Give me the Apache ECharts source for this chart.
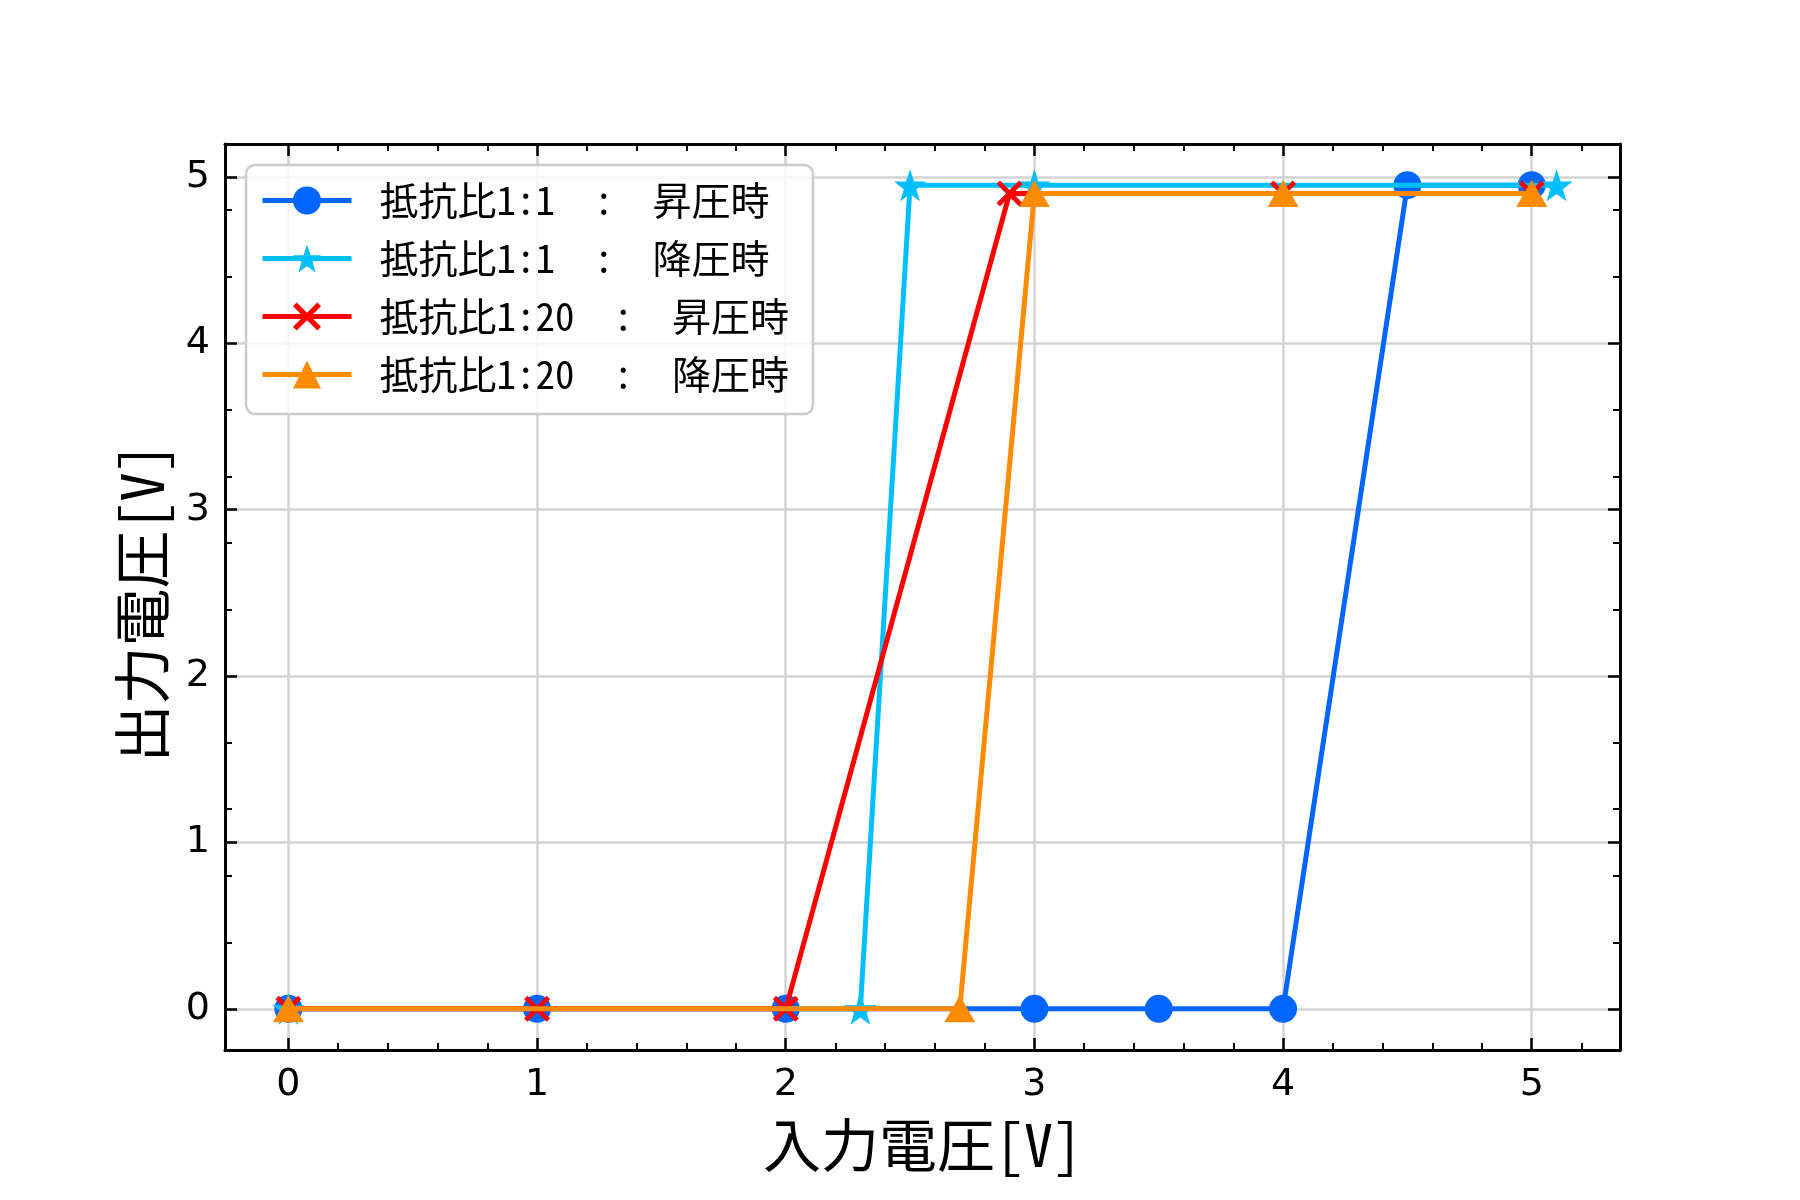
<!DOCTYPE html>
<html><head><meta charset="utf-8">
<script src="https://cdn.jsdelivr.net/npm/echarts@6/dist/echarts.min.js"></script>
<style>html,body{margin:0;padding:0;background:#fff}#c{width:1800px;height:1200px}</style>
</head><body><div id="c"></div>
<script>
// ---- data ----
const seriesNames = ['抵抗比1:1  :  昇圧時', '抵抗比1:1  :  降圧時', '抵抗比1:20  :  昇圧時', '抵抗比1:20  :  降圧時'];
const up11X = [0, 1, 2, 3, 3.5, 4, 4.5, 5];
const up11Y = [0, 0, 0, 0, 0, 0, 4.95, 4.95];
const down11X = [5.1, 3, 2.5, 2.3, 0];
const down11Y = [4.95, 4.95, 4.95, 0, 0];
const up120X = [0, 1, 2, 2.9, 4, 5];
const up120Y = [0, 0, 0, 4.9, 4.9, 4.9];
const down120X = [5, 4, 3, 2.7, 0];
const down120Y = [4.9, 4.9, 4.9, 0, 0];
const xMajorTicks = [0, 1, 2, 3, 4, 5];
const yMajorTicks = [0, 1, 2, 3, 4, 5];
const xMinorTicks = [0.2, 0.4, 0.6, 0.8, 1.2, 1.4, 1.6, 1.8, 2.2, 2.4, 2.6, 2.8, 3.2, 3.4, 3.6, 3.8, 4.2, 4.4, 4.6, 4.8, 5.2];
const yMinorTicks = [0.4, 0.8, 1.2, 1.6, 2.4, 2.8, 3.2, 3.6, 4.4, 4.8];
const xTitle = '入力電圧[V]';
const yTitle = '出力電圧[V]';

// ---- style ----
const FONT_NUM = 'DejaVu Sans';
const FONT_JP = '"Noto Sans Mono CJK JP", "Noto Sans CJK JP", sans-serif';
const colors = ['#0066ff', '#00bfff', '#ff0000', '#ff8c00'];
const X_MIN = -0.255, X_MAX = 5.355, Y_MIN = -0.2475, Y_MAX = 5.1975;
const STAR = 'path://M50,0 L61.8,35.1 L97.6,34.5 L68.8,56.7 L79.4,90.5 L50,70 L20.6,90.5 L31.2,56.7 L2.4,34.5 L38.2,35.1 Z';
const CROSS = 'path://M1.3,0 L5,3.7 L8.7,0 L10,1.3 L6.3,5 L10,8.7 L8.7,10 L5,6.3 L1.3,10 L0,8.7 L3.7,5 L0,1.3 Z';

function pairs(xs, ys) { return xs.map((x, i) => [x, ys[i]]); }

function mkAxis(kind, pos, o) {
  const isX = kind === 'x';
  const a = {
    type: 'value', position: pos,
    min: isX ? X_MIN : Y_MIN, max: isX ? X_MAX : Y_MAX,
    z: o.z == null ? 3 : o.z,
    axisLine: { show: !!o.line, onZero: false, lineStyle: { color: '#000', width: 3 } },
    axisTick: { show: !!o.ticks, inside: true, length: o.len || 12, customValues: o.values,
      lineStyle: { color: '#000', width: o.tw || 2.5 } },
    axisLabel: { show: !!o.labels, customValues: o.values, color: '#000',
      fontFamily: FONT_NUM, fontSize: 38, margin: o.margin || 14 },
    splitLine: { show: !!o.split, lineStyle: { color: '#d3d3d3', width: 2.5 } },
  };
  if (o.name) {
    a.name = o.name; a.nameLocation = 'middle'; a.nameGap = o.nameGap;
    a.nameTextStyle = { fontFamily: FONT_JP, fontSize: 58, color: '#000', padding: o.namePad || 0 };
    if (!isX) a.nameRotate = 90;
  }
  return a;
}

const xAxes = [
  mkAxis('x', 'bottom', { values: xMajorTicks, split: true, z: 0 }),
  mkAxis('x', 'bottom', { values: xMajorTicks, line: true, ticks: true, labels: true, margin: 16, name: xTitle, nameGap: 66 }),
  mkAxis('x', 'bottom', { values: xMinorTicks, ticks: true, len: 7, tw: 2 }),
  mkAxis('x', 'top', { values: xMajorTicks, line: true, ticks: true }),
  mkAxis('x', 'top', { values: xMinorTicks, ticks: true, len: 7, tw: 2 }),
];
const yAxes = [
  mkAxis('y', 'left', { values: yMajorTicks, split: true, z: 0 }),
  mkAxis('y', 'left', { values: yMajorTicks, line: true, ticks: true, labels: true, margin: 15, name: yTitle, nameGap: 54, namePad: [0, 12, 0, 0] }),
  mkAxis('y', 'left', { values: yMinorTicks, ticks: true, len: 7, tw: 2 }),
  mkAxis('y', 'right', { values: yMajorTicks, line: true, ticks: true }),
  mkAxis('y', 'right', { values: yMinorTicks, ticks: true, len: 7, tw: 2 }),
];

const seriesDefs = [
  { data: pairs(up11X, up11Y), symbol: 'circle', size: 28 },
  { data: pairs(down11X, down11Y), symbol: STAR, size: 32 },
  { data: pairs(up120X, up120Y), symbol: CROSS, size: 26 },
  { data: pairs(down120X, down120Y), symbol: 'triangle', size: [31, 27] },
];

const option = {
  animation: false,
  backgroundColor: '#ffffff',
  grid: { left: 225, top: 144, width: 1395, height: 906 },
  legend: {
    orient: 'vertical', left: 246, top: 165,
    padding: [16, 24, 20, 14],
    itemWidth: 89, itemHeight: 35, itemGap: 19,
    backgroundColor: 'rgba(255,255,255,0.8)', borderColor: '#cccccc', borderWidth: 2.5, borderRadius: 9,
    lineStyle: { width: 5 },
    textStyle: { fontFamily: FONT_JP, fontSize: 39, lineHeight: 35, color: '#000', padding: [0, 0, 0, 23] },
    data: seriesNames,
  },
  xAxis: xAxes,
  yAxis: yAxes,
  series: seriesDefs.map((s, i) => ({
    name: seriesNames[i], type: 'line', xAxisIndex: 0, yAxisIndex: 0,
    data: s.data, symbol: s.symbol, symbolSize: s.size, showSymbol: true, showAllSymbol: true,
    color: colors[i],
    itemStyle: { color: colors[i] },
    lineStyle: { color: colors[i], width: 5 },
    emphasis: { disabled: true },
    z: 2 + i * 0.01,
  })),
};
const chart = echarts.init(document.getElementById('c'), null, { renderer: 'canvas' });
chart.setOption(option);
</script></body></html>
